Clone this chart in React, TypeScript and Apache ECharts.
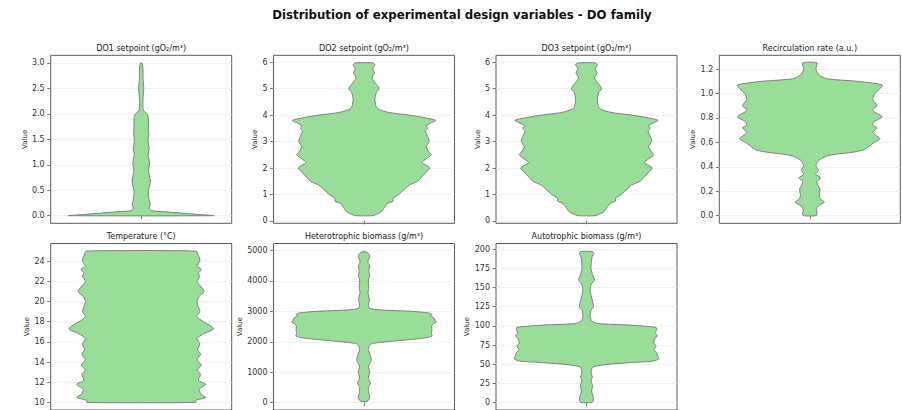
import React, { useEffect, useRef } from "react";
import * as echarts from "echarts";

// ---- Violin profiles: value levels and relative half-widths (1 = widest) ----
const do1Levels = [0, 0.025, 0.05, 0.075, 0.1, 0.15, 0.22, 0.3, 0.4, 0.5, 0.6, 0.7, 0.8, 0.9, 1.0, 1.1, 1.2, 1.3, 1.4, 1.5, 1.6, 1.7, 1.8, 1.9, 1.95, 2.0, 2.05, 2.1, 2.3, 2.5, 2.7, 2.85, 2.95, 3.0];
const do1Widths = [1.0, 0.78, 0.56, 0.34, 0.13, 0.11, 0.125, 0.11, 0.1, 0.1, 0.12, 0.125, 0.11, 0.1, 0.115, 0.11, 0.095, 0.11, 0.1, 0.095, 0.105, 0.1, 0.1, 0.1, 0.095, 0.08, 0.04, 0.025, 0.025, 0.035, 0.025, 0.025, 0.02, 0.008];

const do2Levels = [0.2, 0.25, 0.35, 0.5, 0.65, 0.75, 0.85, 1.0, 1.2, 1.35, 1.5, 1.7, 1.85, 2.0, 2.1, 2.2, 2.35, 2.5, 2.6, 2.8, 3.0, 3.2, 3.4, 3.5, 3.6, 3.7, 3.8, 3.9, 4.0, 4.1, 4.25, 4.4, 4.6, 4.85, 5.0, 5.2, 5.4, 5.6, 5.75, 5.9, 5.97];
const do2Widths = [0.12, 0.17, 0.24, 0.28, 0.32, 0.4, 0.4, 0.48, 0.56, 0.62, 0.74, 0.81, 0.86, 0.91, 0.86, 0.8, 0.86, 0.93, 0.9, 0.86, 0.9, 0.88, 0.85, 0.88, 0.86, 0.92, 0.99, 0.84, 0.62, 0.34, 0.18, 0.16, 0.15, 0.17, 0.21, 0.16, 0.11, 0.145, 0.12, 0.15, 0.12];

const do3Levels = [0.2, 0.25, 0.35, 0.5, 0.65, 0.75, 0.85, 1.0, 1.2, 1.35, 1.5, 1.7, 1.85, 2.0, 2.1, 2.2, 2.35, 2.5, 2.6, 2.8, 3.0, 3.2, 3.4, 3.5, 3.6, 3.7, 3.8, 3.9, 4.0, 4.1, 4.25, 4.4, 4.6, 4.85, 5.0, 5.2, 5.4, 5.6, 5.75, 5.9, 5.97];
const do3Widths = [0.12, 0.17, 0.24, 0.28, 0.32, 0.4, 0.4, 0.48, 0.56, 0.62, 0.74, 0.81, 0.86, 0.91, 0.86, 0.8, 0.86, 0.93, 0.9, 0.86, 0.9, 0.88, 0.85, 0.88, 0.86, 0.92, 0.99, 0.84, 0.62, 0.34, 0.18, 0.16, 0.15, 0.17, 0.21, 0.16, 0.11, 0.145, 0.12, 0.15, 0.12];

const recircLevels = [0.0, 0.02, 0.05, 0.08, 0.11, 0.14, 0.17, 0.22, 0.25, 0.28, 0.31, 0.34, 0.37, 0.4, 0.42, 0.45, 0.48, 0.5, 0.52, 0.54, 0.57, 0.6, 0.63, 0.68, 0.72, 0.74, 0.77, 0.81, 0.85, 0.87, 0.9, 0.95, 1.0, 1.04, 1.07, 1.1, 1.12, 1.15, 1.2, 1.25];
const recircWidths = [0.09, 0.1, 0.09, 0.12, 0.2, 0.14, 0.13, 0.14, 0.11, 0.1, 0.15, 0.08, 0.12, 0.09, 0.09, 0.12, 0.2, 0.32, 0.6, 0.75, 0.82, 0.89, 0.97, 0.87, 0.93, 0.87, 0.89, 1.0, 0.89, 0.87, 0.93, 0.87, 0.9, 0.97, 1.0, 0.65, 0.24, 0.13, 0.085, 0.1];

const tempLevels = [10.0, 10.2, 10.5, 10.8, 11.3, 11.8, 12.2, 12.8, 13.2, 13.7, 14.2, 14.8, 15.2, 15.8, 16.3, 16.8, 17.3, 18.0, 18.5, 19.0, 19.5, 20.0, 20.5, 21.0, 21.7, 22.0, 22.5, 22.8, 23.2, 23.5, 24.0, 24.4, 24.7, 25.0];
const tempWidths = [0.75, 0.75, 0.89, 0.83, 0.8, 0.89, 0.79, 0.82, 0.77, 0.83, 0.77, 0.82, 0.78, 0.81, 0.77, 0.86, 1.0, 0.86, 0.77, 0.81, 0.79, 0.77, 0.8, 0.87, 0.8, 0.77, 0.81, 0.79, 0.83, 0.77, 0.81, 0.8, 0.78, 0.76];

const heteroLevels = [50, 150, 300, 500, 650, 800, 1000, 1200, 1400, 1600, 1750, 1900, 1950, 2000, 2050, 2100, 2150, 2200, 2300, 2400, 2500, 2600, 2650, 2700, 2800, 2850, 2900, 2950, 3000, 3050, 3100, 3200, 3400, 3600, 3800, 4000, 4200, 4350, 4500, 4600, 4700, 4800, 4900, 4950];
const heteroWidths = [0.045, 0.08, 0.067, 0.06, 0.09, 0.06, 0.08, 0.06, 0.1, 0.08, 0.06, 0.08, 0.13, 0.3, 0.53, 0.75, 0.89, 0.94, 0.93, 0.94, 0.93, 0.96, 1.0, 0.98, 0.96, 0.91, 0.94, 0.89, 0.67, 0.21, 0.08, 0.06, 0.075, 0.055, 0.067, 0.06, 0.075, 0.065, 0.08, 0.055, 0.06, 0.08, 0.06, 0.035];

const autoLevels = [0, 3, 8, 15, 22, 28, 33, 40, 45, 47, 50, 52, 54, 57, 61, 65, 69, 73, 78, 83, 87, 91, 95, 98, 101, 103, 106, 112, 120, 125, 130, 140, 148, 155, 160, 165, 175, 190, 195, 197];
const autoWidths = [0.076, 0.097, 0.09, 0.07, 0.085, 0.062, 0.08, 0.062, 0.076, 0.1, 0.32, 0.6, 0.92, 1.0, 0.98, 0.97, 0.93, 0.96, 0.93, 0.94, 0.98, 0.95, 0.97, 0.96, 0.6, 0.16, 0.076, 0.05, 0.062, 0.097, 0.09, 0.062, 0.05, 0.07, 0.11, 0.09, 0.062, 0.076, 0.1, 0.076];

// ---- Axis ticks ----
const do1Ticks = [0, 0.5, 1.0, 1.5, 2.0, 2.5, 3.0];
const do2Ticks = [0, 1, 2, 3, 4, 5, 6];
const do3Ticks = [0, 1, 2, 3, 4, 5, 6];
const recircTicks = [0, 0.2, 0.4, 0.6, 0.8, 1.0, 1.2];
const tempTicks = [10, 12, 14, 16, 18, 20, 22, 24];
const heteroTicks = [0, 1000, 2000, 3000, 4000, 5000];
const autoTicks = [0, 25, 50, 75, 100, 125, 150, 175, 200];

const titles = [
  "DO1 setpoint (gO₂/m³)",
  "DO2 setpoint (gO₂/m³)",
  "DO3 setpoint (gO₂/m³)",
  "Recirculation rate (a.u.)",
  "Temperature (°C)",
  "Heterotrophic biomass (g/m³)",
  "Autotrophic biomass (g/m³)",
];

const FONT = "DejaVu Sans";
const FILL = "#98dd98";
const EDGE = "#808080";
const SPINE = "#5a5a5a";
const HALF = 0.4; // widest half-width as a fraction of the panel width

type Panel = {
  title: string;
  levels: number[];
  widths: number[];
  ticks: number[];
  decimals: number;
  yMin: number;
  yMax: number;
  left: number;
  top: number;
  nameGap: number;
};

const COL_LEFT = [50.7, 273.5, 496, 719.3];
const ROW_TOP = [55.3, 243.5];
const PANEL_W = 181;
const PANEL_H = 168;

const panels: Panel[] = [
  { title: titles[0], levels: do1Levels, widths: do1Widths, ticks: do1Ticks, decimals: 1, yMin: -0.15, yMax: 3.15, left: COL_LEFT[0], top: ROW_TOP[0], nameGap: 20 },
  { title: titles[1], levels: do2Levels, widths: do2Widths, ticks: do2Ticks, decimals: 0, yMin: -0.0885, yMax: 6.2585, left: COL_LEFT[1], top: ROW_TOP[0], nameGap: 15 },
  { title: titles[2], levels: do3Levels, widths: do3Widths, ticks: do3Ticks, decimals: 0, yMin: -0.0885, yMax: 6.2585, left: COL_LEFT[2], top: ROW_TOP[0], nameGap: 15 },
  { title: titles[3], levels: recircLevels, widths: recircWidths, ticks: recircTicks, decimals: 1, yMin: -0.0625, yMax: 1.3125, left: COL_LEFT[3], top: ROW_TOP[0], nameGap: 21 },
  { title: titles[4], levels: tempLevels, widths: tempWidths, ticks: tempTicks, decimals: 0, yMin: 9.25, yMax: 25.75, left: COL_LEFT[0], top: ROW_TOP[1], nameGap: 20 },
  { title: titles[5], levels: heteroLevels, widths: heteroWidths, ticks: heteroTicks, decimals: 0, yMin: -240, yMax: 5230, left: COL_LEFT[1], top: ROW_TOP[1], nameGap: 28 },
  { title: titles[6], levels: autoLevels, widths: autoWidths, ticks: autoTicks, decimals: 0, yMin: -9.8, yMax: 207.5, left: COL_LEFT[2], top: ROW_TOP[1], nameGap: 24 },
];

function buildOption(): echarts.EChartsOption {
  const grid: any[] = [];
  const xAxis: any[] = [];
  const yAxis: any[] = [];
  const series: any[] = [];
  const graphic: any[] = [];

  graphic.push({
    type: "text",
    x: 462,
    y: 15,
    style: {
      text: "Distribution of experimental design variables - DO family",
      font: `bold 11.75px '${FONT}'`,
      fill: "#111",
      textAlign: "center",
      textVerticalAlign: "middle",
    },
  });

  panels.forEach((p, i) => {
    grid.push({
      left: p.left,
      top: p.top,
      width: PANEL_W,
      height: PANEL_H,
      show: true,
      borderColor: SPINE,
      borderWidth: 1,
      backgroundColor: "transparent",
    });
    xAxis.push({
      type: "category",
      gridIndex: i,
      data: [""],
      boundaryGap: true,
      axisLine: { show: false },
      axisTick: { show: true, alignWithLabel: true, length: 3.5, lineStyle: { color: SPINE, width: 0.8 } },
      axisLabel: { show: false },
      splitLine: { show: false },
    });
    yAxis.push({
      type: "value",
      gridIndex: i,
      min: p.yMin,
      max: p.yMax,
      name: "Value",
      nameLocation: "middle",
      nameRotate: 90,
      nameGap: p.nameGap,
      nameTextStyle: { fontFamily: FONT, fontSize: 7, color: "#333" },
      axisLine: { show: false },
      axisTick: { show: true, length: 3.5, customValues: p.ticks, lineStyle: { color: SPINE, width: 0.8 } },
      axisLabel: {
        show: true,
        customValues: p.ticks,
        fontFamily: FONT,
        fontSize: 8,
        color: "#333",
        margin: 6,
        formatter: (v: number) => v.toFixed(p.decimals),
      },
      splitLine: { show: true, lineStyle: { color: "#ececec", width: 0.8 } },
    });
    series.push({
      type: "custom",
      xAxisIndex: i,
      yAxisIndex: i,
      data: [[0, p.levels[0]]],
      clip: false,
      renderItem: (_params: any, api: any) => {
        const band = api.size([1, 0])[0];
        const right: number[][] = [];
        const left: number[][] = [];
        for (let k = 0; k < p.levels.length; k++) {
          const c = api.coord([0, p.levels[k]]);
          const hw = band * HALF * p.widths[k];
          right.push([c[0] + hw, c[1]]);
          left.push([c[0] - hw, c[1]]);
        }
        const points = right.concat(left.reverse());
        return {
          type: "polygon",
          shape: { points, smooth: 0.25 },
          style: { fill: FILL, stroke: EDGE, lineWidth: 1 },
        };
      },
    });
    graphic.push({
      type: "text",
      x: p.left + PANEL_W / 2,
      y: p.top - 7,
      style: {
        text: p.title,
        font: `8px '${FONT}'`,
        fill: "#222",
        textAlign: "center",
        textVerticalAlign: "middle",
      },
    });
  });

  return {
    animation: false,
    backgroundColor: "#ffffff",
    textStyle: { fontFamily: FONT },
    grid,
    xAxis,
    yAxis,
    series,
    graphic,
  };
}

export default function App() {
  const ref = useRef<HTMLDivElement>(null);
  useEffect(() => {
    if (!ref.current) return;
    const chart = echarts.init(ref.current, undefined, { renderer: "svg" });
    chart.setOption(buildOption());
    return () => chart.dispose();
  }, []);
  return (
    <div
      ref={ref}
      style={{ position: "fixed", left: 0, top: 0, width: 903, height: 410, background: "#fff" }}
    />
  );
}
